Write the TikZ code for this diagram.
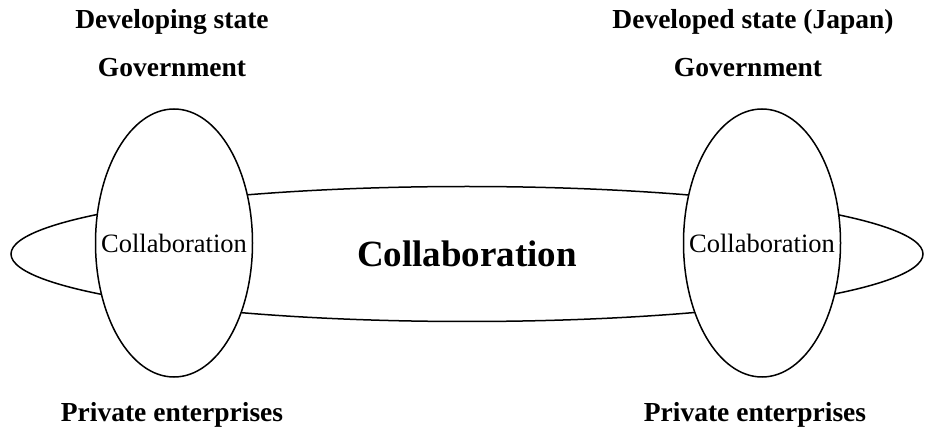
\documentclass[tikz,border=0pt]{standalone}
\usepackage{fontspec}
\setmainfont{Liberation Serif}
\usetikzlibrary{positioning,shapes.geometric}

\begin{document}
\begin{tikzpicture}[x=1pt,y=-1pt]
	\tikzset{
		lobe/.style={ellipse, draw=black, line width=1.5pt, fill=white,
			inner sep=0pt, minimum width=157pt, minimum height=268pt},
		link/.style={ellipse, draw=black, line width=1.5pt,
			inner sep=0pt, minimum width=912pt, minimum height=135pt,
			font=\bfseries\fontsize{37}{44}\selectfont},
		inner/.style={inner sep=0pt, font=\fontsize{26.5}{30}\selectfont},
		head/.style={anchor=base, font=\bfseries\fontsize{27.5}{32}\selectfont}
	}
	\useasboundingbox (0,0) rectangle (927,430);
	
	% COLLABORATION BETWEEN STATES
	\node[link] (collab) at (467,254) {Collaboration};
	
	% DEVELOPING STATE
	\node[lobe] (dev) at (174,243) {};
	\node[inner] (devtxt) at (dev) {Collaboration};
	\node[head] (devname) at (172,29) {Developing state};
	\node[head] (devgov) at (172,77) {Government};
	\node[head] (devpriv) at (172,421) {Private enterprises};
	
	% DEVELOPED STATE
	\node[lobe] (jpn) at (762,243) {};
	\node[inner] (jpntxt) at (jpn) {Collaboration};
	\node[head] (jpnname) at (753,29) {Developed state (Japan)};
	\node[head] (jpngov) at (748,77) {Government};
	\node[head] (jpnpriv) at (755,421) {Private enterprises};
\end{tikzpicture}
\end{document}
